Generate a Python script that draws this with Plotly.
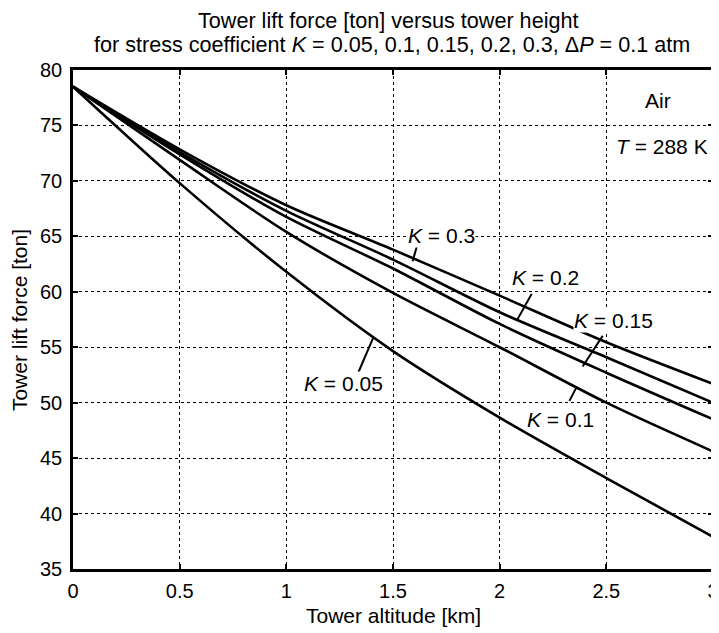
import plotly.graph_objects as go

# ---- data ----
altitude_km = [0.0, 0.5, 1.0, 1.5, 2.0, 2.5, 3.0]
lift_K005 = [78.5, 69.8, 61.8, 54.65, 48.65, 43.2, 37.9]
lift_K010 = [78.5, 71.9, 65.4, 59.9, 55.0, 50.0, 45.6]
lift_K015 = [78.5, 72.4, 66.75, 62.1, 57.1, 52.7, 48.5]
lift_K020 = [78.5, 72.6, 67.3, 62.9, 58.15, 54.1, 50.0]
lift_K030 = [78.5, 72.85, 67.8, 63.8, 59.65, 55.45, 51.7]

series_names = ["K = 0.05", "K = 0.1", "K = 0.15", "K = 0.2", "K = 0.3"]
series_values = [lift_K005, lift_K010, lift_K015, lift_K020, lift_K030]

# curve labels: text, label position, pointer start, pointer end
label_texts = ["<i>K</i> = 0.05", "<i>K</i> = 0.1", "<i>K</i> = 0.15", "<i>K</i> = 0.2", "<i>K</i> = 0.3"]
label_x = [1.267, 2.283, 2.533, 2.213, 1.725]
label_y = [51.73, 48.5, 57.4, 61.3, 65.08]
ptr_x0 = [1.3375, 2.327, 2.483, 2.150, 1.611]
ptr_y0 = [52.72, 50.16, 56.04, 59.81, 64.03]
ptr_x1 = [1.408, 2.358, 2.389, 2.083, 1.592]
ptr_y1 = [55.89, 51.31, 53.26, 57.5, 62.76]

x_ticks = [0, 0.5, 1, 1.5, 2, 2.5, 3]
y_ticks = [35, 40, 45, 50, 55, 60, 65, 70, 75, 80]

title_line1 = "Tower lift force [ton] versus tower height"
title_line2 = "for stress coefficient <i>K</i> = 0.05, 0.1, 0.15, 0.2, 0.3, Δ<i>P</i> = 0.1 atm"
x_title = "Tower altitude [km]"
y_title = "Tower lift force [ton]"

FONT = "Liberation Sans, Arial, sans-serif"
BIG = 21

fig = go.Figure()
for name, vals in zip(series_names, series_values):
    fig.add_trace(go.Scatter(
        x=altitude_km, y=vals, mode="lines", name=name,
        line=dict(color="black", width=2.6, shape="spline", smoothing=0.8),
        showlegend=False, hoverinfo="skip"))

for t, lx, ly in zip(label_texts, label_x, label_y):
    fig.add_annotation(x=lx, y=ly, xref="x", yref="y", text=t, showarrow=False,
                       font=dict(family=FONT, size=BIG, color="black"),
                       bgcolor="white", borderpad=0)
for a, b, c, d in zip(ptr_x0, ptr_y0, ptr_x1, ptr_y1):
    fig.add_shape(type="line", xref="x", yref="y", x0=a, y0=b, x1=c, y1=d,
                  line=dict(color="black", width=2))

fig.add_annotation(x=2.742, y=77.23, xref="x", yref="y", text="Air", showarrow=False,
                   font=dict(family=FONT, size=BIG, color="black"), bgcolor="white", borderpad=0)
fig.add_annotation(x=2.761, y=73.11, xref="x", yref="y", text="<i>T</i> = 288 K", showarrow=False,
                   font=dict(family=FONT, size=BIG, color="black"), bgcolor="white", borderpad=0)

# titles
fig.add_annotation(x=0.492, y=1.100, xref="paper", yref="paper", text=title_line1, showarrow=False,
                   xanchor="center", yanchor="middle", font=dict(family=FONT, size=21.6, color="black"))
fig.add_annotation(x=0.4985, y=1.052, xref="paper", yref="paper", text=title_line2, showarrow=False,
                   xanchor="center", yanchor="middle", font=dict(family=FONT, size=21.6, color="black"))
fig.add_annotation(x=0.5, y=-0.0922, xref="paper", yref="paper", text=x_title, showarrow=False,
                   xanchor="center", yanchor="middle", font=dict(family=FONT, size=BIG, color="black"))
fig.add_annotation(x=-0.0828, y=0.499, xref="paper", yref="paper", text=y_title, showarrow=False,
                   textangle=-90, xanchor="center", yanchor="middle",
                   font=dict(family=FONT, size=BIG, color="black"))

axis_common = dict(
    showline=True, linecolor="black", linewidth=2.6, mirror="ticks",
    ticks="inside", ticklen=5, tickwidth=2, tickcolor="black",
    showgrid=True, gridcolor="black", gridwidth=1, griddash="dot",
    zeroline=False, automargin=False,
    tickfont=dict(family=FONT, size=20, color="black"),
)

fig.update_xaxes(range=[0, 3], tickvals=x_ticks, ticklabelstandoff=2, **axis_common)
fig.update_yaxes(range=[35, 80], tickvals=y_ticks, ticklabelstandoff=4, **axis_common)

# the page body adds an 8 px offset, so margins are set 8 px smaller on the left/top
fig.update_layout(
    width=719, height=633,
    margin=dict(l=65, r=14, t=62, b=72),
    paper_bgcolor="white", plot_bgcolor="white",
)

fig.write_html("out.html")
